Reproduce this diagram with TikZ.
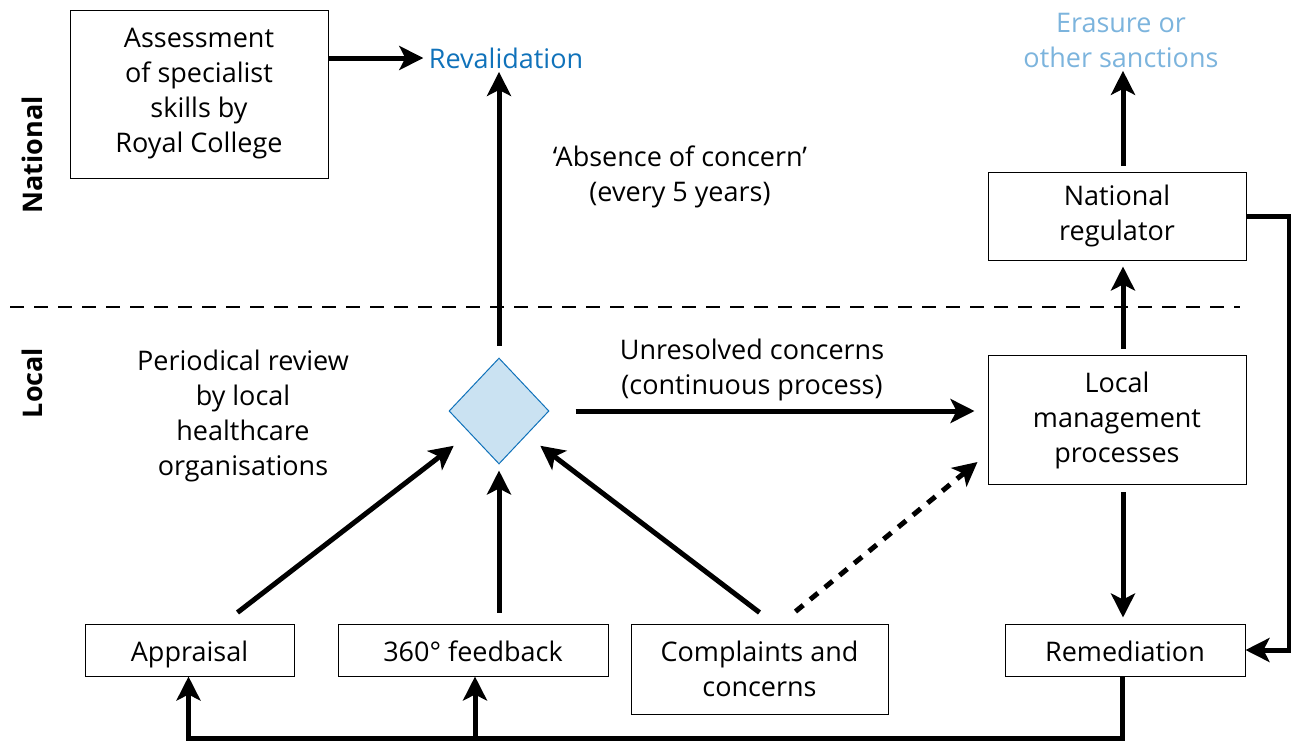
\documentclass[tikz,border=0pt]{standalone}
\usepackage{fontspec}
\setmainfont{Open Sans}
\usetikzlibrary{arrows.meta,shapes.geometric}

\definecolor{revblue}{RGB}{16,114,186}
\definecolor{sanctblue}{RGB}{124,180,221}
\definecolor{diamfill}{RGB}{202,226,242}

\begin{document}
\begin{tikzpicture}[x=1pt,y=-1pt,font=\fontsize{27}{35}\selectfont,
  >={Stealth[length=24pt,width=24pt,inset=6pt]},
  box/.style={draw,line width=1pt,align=center,inner sep=0pt},
  oneline/.style={box,minimum height=52pt,text height=24pt,text depth=2pt},
  flow/.style={->,line width=5pt},
  side/.style={rotate=90,font=\fontsize{27}{35}\selectfont\bfseries}]

\useasboundingbox (0,0) rectangle (1291,740);

% national / local split
\draw[line width=2.5pt,dash pattern=on 14pt off 10pt] (10,307)--(1240,307);
\node[side] (natl) at (32,155) {National};
\node[side] (locl) at (32,383) {Local};

% national level
\node[box,minimum width=258pt,minimum height=168pt] (assess) at (199,94)
  {Assessment\\of specialist\\skills by\\Royal College};
\node[text=revblue] (reval) at (506,58) {Revalidation};
\node[text=sanctblue,align=center] (sanct) at (1121,40) {Erasure or\\other sanctions};
\node[box,minimum width=258pt,minimum height=88pt] (reg) at (1117,216)
  {National\\regulator};
\node[align=center] (absence) at (680,177) {`Absence of concern'\\(every 5 years)};

% local level
\node[shape=diamond,draw=revblue,fill=diamfill,line width=1pt,
  minimum width=100pt,minimum height=106pt,inner sep=0pt] (diam) at (499,411) {};
\node[align=center] (review) at (243,416)
  {Periodical review\\by local\\healthcare\\organisations};
\node[box,minimum width=258pt,minimum height=129pt] (lmp) at (1117,420)
  {Local\\management\\processes};
\node[align=center] (unres) at (752,370) {Unresolved concerns\\(continuous process)};

\node[oneline,minimum width=209pt] (apprais) at (189.5,650) {Appraisal};
\node[oneline,minimum width=270pt] (feed) at (473,650) {360° feedback};
\node[box,minimum width=257pt,minimum height=90pt] (compl) at (759.5,669)
  {Complaints and\\concerns};
\node[oneline,minimum width=240pt] (remed) at (1125,650) {Remediation};

% arrows
\draw[flow] (assess.east |- reval.west)--([xshift=-2pt]reval.west);
\draw[flow,shorten <=12pt] (diam.north)--(diam.north |- reval.south);
\draw[flow,shorten <=6pt] ([xshift=6pt]reg.north)--([xshift=6pt]reg.north |- sanct.south);
\draw[flow,shorten <=6pt,shorten >=6pt] ([xshift=6pt]lmp.north)--([xshift=6pt]reg.south);
\draw[flow,shorten <=7pt,shorten >=6pt] ([xshift=6pt]lmp.south)--([xshift=6pt]lmp.south |- remed.north);
\draw[flow,shorten <=26pt] (diam.east)--([xshift=-13pt]diam.east -| lmp.west);

\draw[flow] ([xshift=48pt,yshift=11pt]apprais.north)--([xshift=-20pt,yshift=-8pt]diam.south west);
\draw[flow] ([yshift=11pt]feed.north -| diam.south)--([yshift=-6pt]diam.south);
\draw[flow] ([yshift=11pt]compl.north)--([xshift=16pt,yshift=-8pt]diam.south east);
\draw[flow,dash pattern=on 10pt off 9pt] ([xshift=36pt,yshift=12pt]compl.north)
  --([xshift=-10pt,yshift=23pt]lmp.south west);

% feedback loops
\draw[flow] (reg.east)--(1289,216)|-(remed.east);
\draw[flow] ([xshift=-3pt]remed.south)--++(0,62)-|([xshift=-1pt]apprais.south);
\draw[flow] ([xshift=2pt,yshift=-62pt]feed.south)--([xshift=2pt]feed.south);

\end{tikzpicture}
\end{document}
